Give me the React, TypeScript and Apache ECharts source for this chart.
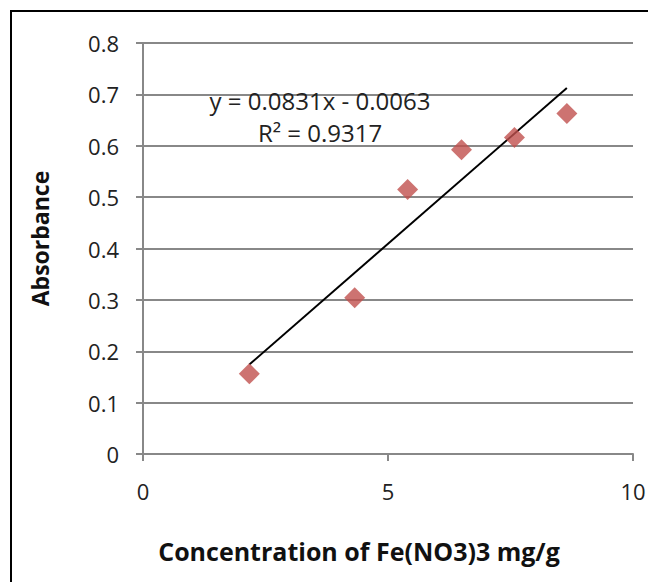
import React, { useEffect, useRef } from "react";
import * as echarts from "echarts";

const concentration = [2.17, 4.32, 5.4, 6.5, 7.58, 8.65];
const absorbance = [0.156, 0.304, 0.515, 0.592, 0.616, 0.663];
const slope = 0.0831;
const intercept = -0.0063;
const equationText = "y = 0.0831x - 0.0063";
const r2Text = "R² = 0.9317";
const xTitle = "Concentration of Fe(NO3)3 mg/g";
const yTitle = "Absorbance";

const FONT = "'Open Sans', 'Noto Sans', sans-serif";

export default function App() {
  const ref = useRef<HTMLDivElement>(null);
  useEffect(() => {
    if (!ref.current) return;
    const chart = echarts.init(ref.current, undefined, { renderer: "svg" });
    const xMin = Math.min(...concentration);
    const xMax = Math.max(...concentration);
    const trend = [
      [xMin, slope * xMin + intercept],
      [xMax, slope * xMax + intercept],
    ];
    const axisGray = "#888888";
    chart.setOption({
      animation: false,
      backgroundColor: "#ffffff",
      grid: { left: 135, top: 35, right: 23, bottom: 128, containLabel: false },
      xAxis: {
        type: "value",
        min: 0,
        max: 10,
        interval: 5,
        name: xTitle,
        nameLocation: "middle",
        nameGap: 84,
        nameTextStyle: {
          fontFamily: FONT,
          fontWeight: "bold",
          fontSize: 25,
          color: "#111",
          padding: [0, 58, 0, 0],
        },
        axisLine: { show: true, lineStyle: { color: axisGray, width: 2 } },
        axisTick: { show: true, length: 7, lineStyle: { color: axisGray, width: 2 } },
        axisLabel: { margin: 26, fontFamily: FONT, fontSize: 22, color: "#222" },
        splitLine: { show: false },
      },
      yAxis: {
        type: "value",
        min: 0,
        max: 0.8,
        interval: 0.1,
        name: yTitle,
        nameLocation: "middle",
        nameGap: 92,
        nameRotate: 90,
        nameTextStyle: {
          fontFamily: FONT,
          fontWeight: "bold",
          fontSize: 23,
          color: "#111",
          padding: [0, 0, 0, 20],
        },
        axisLine: { show: true, lineStyle: { color: axisGray, width: 2 } },
        axisTick: { show: true, length: 7, lineStyle: { color: axisGray, width: 2 } },
        axisLabel: {
          margin: 24,
          fontFamily: FONT,
          fontSize: 22,
          color: "#222",
          formatter: (v: number) => (v === 0 ? "0" : v.toFixed(1)),
        },
        splitLine: { show: true, lineStyle: { color: axisGray, width: 2 } },
      },
      series: [
        {
          type: "line",
          data: trend,
          symbol: "none",
          lineStyle: { color: "#000000", width: 2 },
          z: 3,
        },
        {
          type: "scatter",
          data: concentration.map((x, i) => [x, absorbance[i]]),
          symbol: "diamond",
          symbolSize: 21,
          itemStyle: { color: "#C0504D" },
          z: 4,
        },
      ],
      graphic: [
        {
          type: "rect",
          shape: { x: 3, y: 3, width: 800, height: 800 },
          style: { fill: "none", stroke: "#000", lineWidth: 2 },
          silent: true,
        },
        {
          type: "text",
          x: 312,
          y: 92,
          style: {
            text: equationText,
            fontFamily: FONT,
            fontSize: 24,
            fill: "#222",
            textAlign: "center",
            textVerticalAlign: "middle",
          },
          z: 10,
        },
        {
          type: "text",
          x: 312,
          y: 124,
          style: {
            text: r2Text,
            fontFamily: FONT,
            fontSize: 24,
            fill: "#222",
            textAlign: "center",
            textVerticalAlign: "middle",
          },
          z: 10,
        },
      ],
    });
    return () => chart.dispose();
  }, []);
  return <div ref={ref} style={{ width: 648, height: 574 }} />;
}
